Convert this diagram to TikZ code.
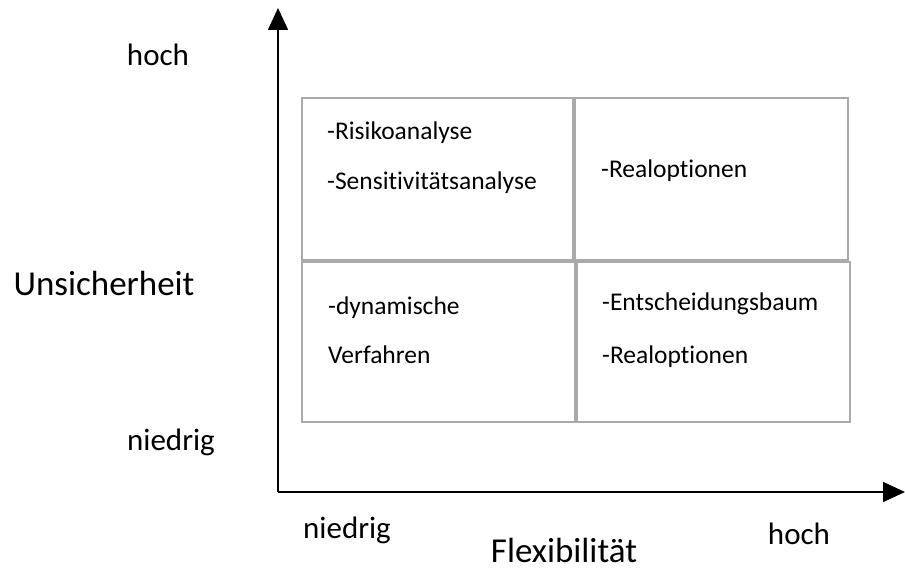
\documentclass[tikz,border=0pt]{standalone}
\usepackage{fontspec}
\setmainfont[Ligatures=NoCommon]{Carlito}
\usetikzlibrary{arrows.meta}
\definecolor{cellgray}{RGB}{170,170,170}
\begin{document}
\begin{tikzpicture}[x=1pt,y=-1pt,
  cell/.style={draw=cellgray,line width=2.6pt},
  axis/.style={draw=black,line width=1.6pt,-{Triangle[length=22pt,width=20pt]}},
  lbl/.style={font=\fontsize{31}{34}\selectfont,inner sep=0pt},
  big/.style={font=\fontsize{35}{38}\selectfont,inner sep=0pt},
  ctext/.style={font=\fontsize{25.5}{28}\selectfont,inner sep=0pt,anchor=west}]
\useasboundingbox (0,0) rectangle (905,569);
% cells
\draw[cell] (302,98) rectangle (573,260);
\draw[cell] (575,98) rectangle (848,260);
\draw[cell] (302,262) rectangle (575,422);
\draw[cell] (577,262) rectangle (850,422);
% axes
\coordinate (o) at (278,492);
\coordinate (ytip) at (278,8);
\coordinate (xtip) at (905,492);
\draw[axis] (o) -- (ytip);
\draw[axis] (o) -- (xtip);
% axis labels
\node[lbl] (yhoch) at (158,55) {hoch};
\node[big] (ylab) at (104,283) {Unsicherheit};
\node[lbl] (yniedrig) at (171,442) {niedrig};
\node[lbl] (xniedrig) at (347,530) {niedrig};
\node[lbl] (xhoch) at (799,534) {hoch};
\node[big] (xlab) at (564,550) {Flexibilität};
% cell texts
\node[ctext] (t1) at (327,133) {-Risikoanalyse};
\node[ctext] (t2) at (327,183) {-Sensitivitätsanalyse};
\node[ctext] (t3) at (601,171) {-Realoptionen};
\node[ctext] (t4) at (328,308) {-dynamische};
\node[ctext] (t5) at (328,355) {Verfahren};
\node[ctext] (t6) at (602,304) {-Entscheidungsbaum};
\node[ctext] (t7) at (602,357) {-Realoptionen};
\end{tikzpicture}
\end{document}
